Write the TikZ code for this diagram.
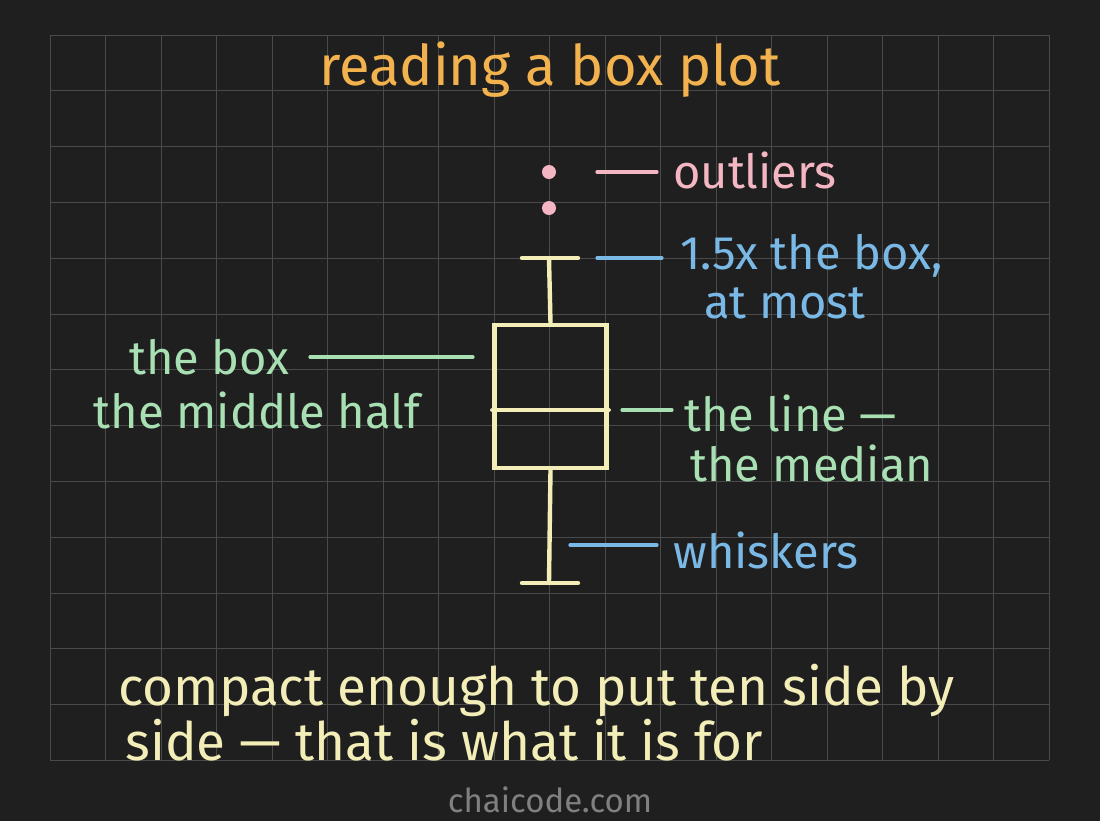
\documentclass[tikz,border=0pt]{standalone}
\usepackage{fontspec}
\setmainfont{Fira Sans}
\usetikzlibrary{positioning}
\definecolor{board}{HTML}{1F1F1F}
\definecolor{gridc}{HTML}{4A4A4A}
\definecolor{cream}{HTML}{F3EEB8}
\definecolor{orng}{HTML}{F2B24E}
\definecolor{pink}{HTML}{F4B6C2}
\definecolor{sky}{HTML}{7AB8E6}
\definecolor{mint}{HTML}{A8E0B4}
\begin{document}
\begin{tikzpicture}[x=0.5pt, y=-0.5pt,
    lbl/.style={inner sep=0pt, font=\fontsize{23.5}{27}\selectfont},
    pen/.style={line width=2.2pt, line cap=round},
    tick/.style={line width=1.6pt, line cap=round}
  ]
    \useasboundingbox (0,0) rectangle (1100,821);
    \fill[board] (0,0) rectangle (1100,821);
    %--- grid
    \foreach \i in {0,...,18} \draw[gridc, line width=0.5pt] (50+55.5*\i,35) -- (50+55.5*\i,760);
    \foreach \j in {0,...,13} \draw[gridc, line width=0.5pt] (50,35+55.8*\j) -- (1049,35+55.8*\j);
    %--- title
    \node[lbl, text=orng, font=\fontsize{28}{32}\selectfont] (title) at (550,70) {reading a box plot};
    %--- box plot
    \fill[pink] (549,172) circle (3.5pt) coordinate (o1);
    \fill[pink] (549,208) circle (3.5pt) coordinate (o2);
    \coordinate (capT) at (549,258);
    \coordinate (capB) at (549,583);
    \node[draw=cream, line width=2.2pt, minimum width=56pt, minimum height=71.5pt, inner sep=0pt] (box) at (550.5,396.5) {};
    \draw[pen, cream] (522,258) -- (578,258);
    \draw[pen, cream] (522,583) -- (578,583);
    \draw[pen, cream] (capT) -- (box.north);
    \draw[pen, cream] (box.south) -- (capB);
    \draw[pen, cream] (box.west |- 0,410) -- (box.east |- 0,410);
    %--- labels
    \node[lbl, text=pink, anchor=west] (outl) at (673,170) {outliers};
    \draw[tick, pink] (597,172) -- (657,172);
    \node[lbl, text=sky, anchor=west] (range) at (680,256) {1.5x the box,};
    \node[lbl, text=sky] (most) at (785,303) {at most};
    \draw[tick, sky] (597,258) -- (662,258);
    \node[lbl, text=mint, anchor=east] (boxl) at (290,357) {the box};
    \node[lbl, text=mint] (half) at (257,410) {the middle half};
    \draw[tick, mint] (310,357) -- (473,357);
    \node[lbl, text=mint, anchor=west] (line) at (684,413) {the line —};
    \node[lbl, text=mint, anchor=west] (median) at (690,463) {the median};
    \draw[tick, mint] (622,410) -- (672,410);
    \node[lbl, text=sky, anchor=west] (whisk) at (673,550) {whiskers};
    \draw[tick, sky] (570,545) -- (657,545);
    %--- footer
    \node[lbl, text=cream, anchor=west, font=\fontsize{26.5}{30}\selectfont] (foot1) at (118,690) {compact enough to put ten side by};
    \node[lbl, text=cream, anchor=west, font=\fontsize{26.5}{30}\selectfont] (foot2) at (125,740) {side — that is what it is for};
    \node[lbl, text=gray, font=\fontsize{16.5}{19}\selectfont] (brand) at (550,800) {chaicode.com};
\end{tikzpicture}
\end{document}
